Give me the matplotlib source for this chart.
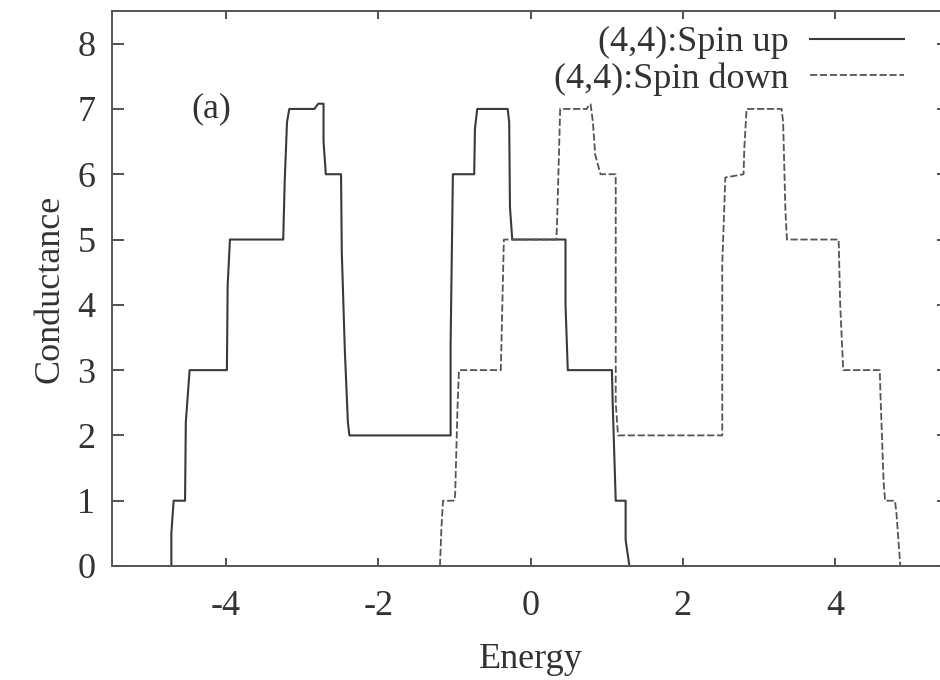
import matplotlib
matplotlib.use("Agg")
import matplotlib.pyplot as plt

# conductance steps (energy, conductance)
energy_up = [-4.72, -4.72, -4.69, -4.54, -4.53, -4.48, -3.99, -3.98, -3.95, -3.25,
             -3.23, -3.20, -3.17, -2.84, -2.79, -2.72, -2.72, -2.69, -2.49, -2.48,
             -2.44, -2.40, -2.38, -1.05, -1.05, -1.02, -0.74, -0.73, -0.70, -0.30,
             -0.28, -0.27, -0.24, 0.46, 0.46, 0.49, 1.07, 1.08, 1.12, 1.25,
             1.25, 1.30]
cond_up = [0.0, 0.5, 1.0, 1.0, 2.2, 3.0, 3.0, 4.3, 5.0, 5.0,
           5.9, 6.8, 7.0, 7.0, 7.08, 7.08, 6.5, 6.0, 6.0, 4.8,
           3.3, 2.2, 2.0, 2.0, 3.4, 6.0, 6.0, 6.7, 7.0, 7.0,
           6.8, 5.5, 5.0, 5.0, 4.0, 3.0, 3.0, 2.5, 1.0, 1.0,
           0.4, 0.0]

energy_down = [-1.19, -1.17, -1.15, -1.00, -0.99, -0.96, -0.94, -0.39, -0.37, -0.35,
               0.34, 0.35, 0.39, 0.74, 0.77, 0.79, 0.82, 0.85, 0.92, 1.12,
               1.12, 1.15, 2.52, 2.52, 2.56, 2.80, 2.81, 2.84, 3.30, 3.32,
               3.35, 3.37, 4.05, 4.07, 4.11, 4.59, 4.60, 4.64, 4.66, 4.79,
               4.81, 4.86]
cond_down = [0.0, 0.6, 1.0, 1.0, 1.1, 2.4, 3.0, 3.0, 4.0, 5.0,
             5.0, 5.3, 7.0, 7.0, 7.07, 7.07, 6.8, 6.3, 6.0, 6.0,
             2.5, 2.0, 2.0, 4.6, 5.95, 6.0, 6.4, 7.0, 7.0, 6.8,
             5.45, 5.0, 5.0, 4.0, 3.0, 3.0, 2.6, 1.3, 1.0, 1.0,
             0.8, 0.0]

x_ticks = [-4, -2, 0, 2, 4]
y_ticks = [0, 1, 2, 3, 4, 5, 6, 7, 8]

plt.rcParams['font.family'] = ['Liberation Serif', 'DejaVu Serif']
plt.rcParams['axes.unicode_minus'] = False
fs = 26
ink = '#333333'

fig = plt.figure(figsize=(9.4, 6.8), dpi=100)
ax = fig.add_axes([112 / 940, 114 / 680, 837 / 940, 555 / 680])

ax.plot(energy_up, cond_up, color='#3a3a3a', lw=1.5, label='(4,4):Spin up')
ax.plot(energy_down, cond_down, color='#555555', lw=1.3, linestyle=(0, (4, 1.5)),
        label='(4,4):Spin down')

ax.set_xlim(-5.5, 5.5)
ax.set_ylim(0, 8.5)
ax.set_xticks(x_ticks)
ax.set_yticks(y_ticks)
ax.tick_params(axis='both', direction='in', top=True, right=True,
               labelsize=fs, colors=ink, width=1.2)
ax.tick_params(axis='x', length=6, pad=17)
ax.tick_params(axis='y', length=8.5, pad=12)
for spine in ax.spines.values():
    spine.set_color('#555555')
    spine.set_linewidth(1.4)

ax.set_xlabel('Energy', fontsize=fs, color=ink, labelpad=15)
ax.set_ylabel('Conductance', fontsize=fs, color=ink, labelpad=8)
ax.text(-4.2, 7.0, '(a)', fontsize=fs, color=ink, ha='center', va='center')

leg = ax.legend(loc='upper right', bbox_to_anchor=(904 / 940, 1 - 26 / 680),
                bbox_transform=fig.transFigure, frameon=False, markerfirst=False,
                fontsize=fs, handlelength=2.6, handletextpad=0.6,
                labelspacing=0.08, borderpad=0, borderaxespad=0)
for t in leg.get_texts():
    t.set_color(ink)

fig.savefig('out.png', dpi=100)
